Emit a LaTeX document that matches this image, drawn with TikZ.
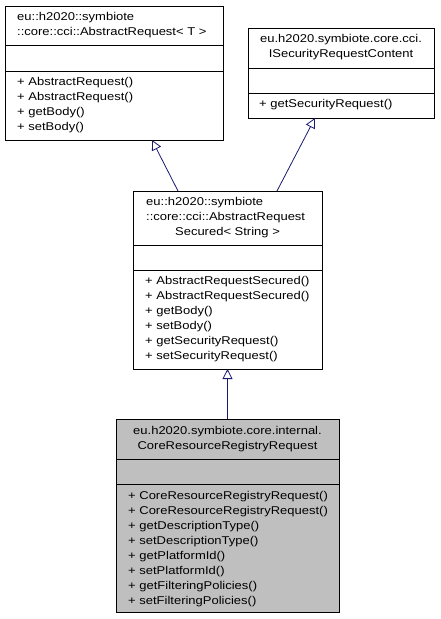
\documentclass[tikz,border=0pt]{standalone}
\usepackage{fontspec}
\setmainfont{Liberation Sans}[FakeStretch=1.15]
\usetikzlibrary{arrows.meta,calc}

\definecolor{edgeblue}{RGB}{25,25,112}
\definecolor{curgray}{RGB}{191,191,191}

\tikzset{
  classbox/.style={draw=black, line width=0.8pt, rectangle, inner sep=0pt, outer sep=0pt},
  txt/.style={inner sep=0pt, font=\fontsize{11.3}{13}\selectfont, text height=8pt, text depth=2.5pt},
  lft/.style={txt, anchor=west},
  inherit/.style={draw=edgeblue, line width=0.8pt, -{Triangle[open, length=10pt, width=10pt, fill=white]}}
}

\begin{document}
\begin{tikzpicture}[x=1pt, y=-1pt]
\useasboundingbox (0,0) rectangle (440,619);

% base class template
\node[classbox, fill=white, minimum width=218pt, minimum height=134pt] (absreq) at (114,73) {};
\draw[line width=0.8pt] (5,45) -- (223,45) (5,71) -- (223,71);
\node[lft] (absreqt1) at (17,17.5) {eu::h2020::symbiote};
\node[lft] (absreqt2) at (17,33) {::core::cci::AbstractRequest< T >};
\node[lft] (absreqm1) at (17,83) {+ AbstractRequest()};
\node[lft] (absreqm2) at (17,98) {+ AbstractRequest()};
\node[lft] (absreqm3) at (17,113) {+ getBody()};
\node[lft] (absreqm4) at (17,128) {+ setBody()};

% interface
\node[classbox, fill=white, minimum width=186pt, minimum height=90pt] (isec) at (341,73) {};
\draw[line width=0.8pt] (248,68) -- (434,68) (248,93) -- (434,93);
\node[txt] (isect1) at (341,40) {eu.h2020.symbiote.core.cci.};
\node[txt] (isect2) at (341,55) {ISecurityRequestContent};
\node[lft] (isecm1) at (259,105) {+ getSecurityRequest()};

% secured request
\node[classbox, fill=white, minimum width=189pt, minimum height=178pt] (secreq) at (227.5,280) {};
\draw[line width=0.8pt] (133,245) -- (322,245) (133,270) -- (322,270);
\node[lft] (secreqt1) at (146,203) {eu::h2020::symbiote};
\node[lft] (secreqt2) at (146,218) {::core::cci::AbstractRequest};
\node[txt] (secreqt3) at (227.5,233) {Secured< String >};
\foreach \m [count=\i from 0] in {AbstractRequestSecured(), AbstractRequestSecured(), getBody(), setBody(), getSecurityRequest(), setSecurityRequest()}
  \node[lft] (secreqm\i) at (145,282+15*\i) {+ \m};

% current class
\node[classbox, fill=curgray, minimum width=223pt, minimum height=193pt] (corereq) at (227.5,515.5) {};
\draw[line width=0.8pt] (116,459) -- (339,459) (116,484) -- (339,484);
\node[txt] (corereqt1) at (227.5,432) {eu.h2020.symbiote.core.internal.};
\node[txt] (corereqt2) at (227.5,447) {CoreResourceRegistryRequest};
\foreach \m [count=\i from 0] in {CoreResourceRegistryRequest(), CoreResourceRegistryRequest(), getDescriptionType(), setDescriptionType(), getPlatformId(), setPlatformId(), getFilteringPolicies(), setFilteringPolicies()}
  \node[lft] (corereqm\i) at (128,497+15*\i) {+ \m};

% inheritance
\draw[inherit] ([xshift=45pt]secreq.north west) -- ([xshift=147pt]absreq.south west);
\draw[inherit] ([xshift=144pt]secreq.north west) -- ([xshift=67pt]isec.south west);
\draw[inherit] (corereq.north) -- (secreq.south);
\end{tikzpicture}
\end{document}
